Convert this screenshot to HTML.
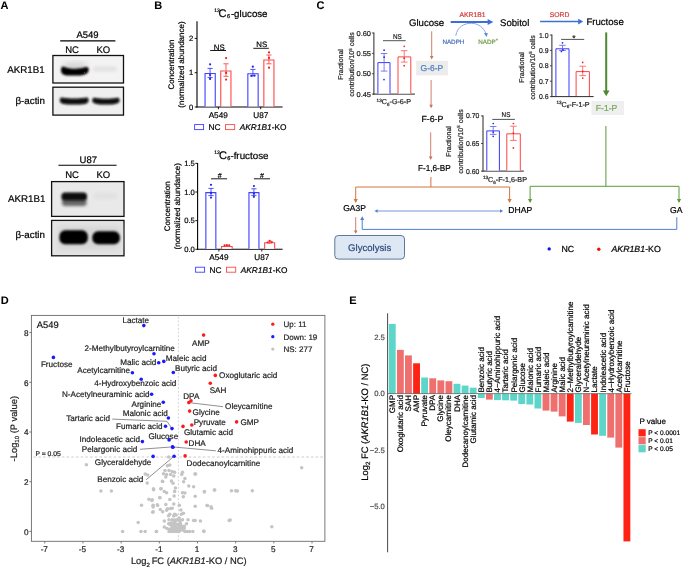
<!DOCTYPE html>
<html><head><meta charset="utf-8"><style>
html,body{margin:0;padding:0;background:#fff;}
svg{display:block;font-family:"Liberation Sans", sans-serif;opacity:0.999;text-rendering:geometricPrecision;}
</style></head><body>
<svg width="685" height="568" viewBox="0 0 685 568">
<defs>
<filter id="b1" x="-30%" y="-60%" width="160%" height="220%"><feGaussianBlur stdDeviation="0.9"/></filter>
<filter id="b2" x="-30%" y="-80%" width="160%" height="260%"><feGaussianBlur stdDeviation="1.4"/></filter>
<filter id="b3" x="-30%" y="-30%" width="160%" height="160%"><feGaussianBlur stdDeviation="3"/></filter>
</defs>
<rect width="685" height="568" fill="#fff"/>
<text x="0.60" y="9.30" font-size="11" font-weight="bold" stroke="#000" stroke-width="0.05" >A</text>
<text x="154.20" y="9.00" font-size="11" font-weight="bold" stroke="#000" stroke-width="0.05" >B</text>
<text x="316.40" y="8.90" font-size="11" font-weight="bold" stroke="#000" stroke-width="0.05" >C</text>
<text x="0.80" y="304.00" font-size="11" font-weight="bold" stroke="#000" stroke-width="0.05" >D</text>
<text x="349.20" y="303.80" font-size="11" font-weight="bold" stroke="#000" stroke-width="0.05" >E</text>
<text x="87.50" y="38.30" font-size="9.5" text-anchor="middle" stroke="#000" stroke-width="0.2" >A549</text>
<line x1="60.20" y1="40.90" x2="115.40" y2="40.90" stroke="#000" stroke-width="1.1" />
<text x="72.10" y="53.20" font-size="9.5" text-anchor="middle" stroke="#000" stroke-width="0.2" >NC</text>
<text x="103.40" y="53.20" font-size="9.5" text-anchor="middle" stroke="#000" stroke-width="0.2" >KO</text>
<rect x="52.90" y="55.50" width="70.60" height="27.50" fill="#f3f3f3" stroke="#111" stroke-width="1.3" />
<rect x="52.90" y="87.20" width="70.60" height="27.90" fill="#efefef" stroke="#111" stroke-width="1.3" />
<text x="44.80" y="73.00" font-size="9.8" text-anchor="end" stroke="#000" stroke-width="0.2" >AKR1B1</text>
<text x="45.00" y="103.60" font-size="9.8" text-anchor="end" stroke="#000" stroke-width="0.2" >β-actin</text>
<rect x="64" y="62.5" width="22" height="8" rx="3" fill="#d2d2d2" filter="url(#b3)"/>
<path d="M61,70 C61,66.3 63,65.8 64.8,66.9 C68.5,69.2 80,69.3 85,67.3 C87.2,66.4 88.7,67 88.7,69.6 C88.7,73.2 86,75.2 80,75.5 L67,75.5 C63,75.2 61,73.6 61,70 Z" fill="#060606" filter="url(#b1)"/>
<circle cx="84.5" cy="72.3" r="0.6" fill="#d02020"/>
<rect x="93" y="66.5" width="24" height="5" rx="2.5" fill="#e2e2e2" filter="url(#b2)"/>
<path d="M59.8,100.7 C59.8,97.4 61.3,97.1 62.8,97.8 C68.4,98.8 80.0,98.8 85.6,97.8 C87.1,97.1 88.6,97.4 88.6,100.7 C88.6,104.0 82.8,104.6 74.2,104.6 C65.6,104.6 59.8,104.0 59.8,100.7 Z" fill="#070707" filter="url(#b1)"/>
<path d="M92.3,100.8 C92.3,97.6 93.8,97.3 95.3,98.0 C100.5,98.9 111.4,98.9 116.6,98.0 C118.1,97.3 119.6,97.6 119.6,100.8 C119.6,104.0 114.1,104.6 105.9,104.6 C97.8,104.6 92.3,104.0 92.3,100.8 Z" fill="#070707" filter="url(#b1)"/>
<text x="88.30" y="162.80" font-size="9.5" text-anchor="middle" stroke="#000" stroke-width="0.2" >U87</text>
<line x1="58.40" y1="165.20" x2="116.60" y2="165.20" stroke="#000" stroke-width="1.1" />
<text x="72.10" y="178.30" font-size="9.5" text-anchor="middle" stroke="#000" stroke-width="0.2" >NC</text>
<text x="103.40" y="178.30" font-size="9.5" text-anchor="middle" stroke="#000" stroke-width="0.2" >KO</text>
<rect x="51.60" y="181.60" width="72.40" height="34.80" fill="#e9e9e9" stroke="#111" stroke-width="1.3" />
<rect x="51.60" y="220.40" width="72.40" height="35.40" fill="#e4e4e4" stroke="#111" stroke-width="1.3" />
<text x="45.50" y="201.90" font-size="9.8" text-anchor="end" stroke="#000" stroke-width="0.2" >AKR1B1</text>
<text x="45.00" y="238.30" font-size="9.8" text-anchor="end" stroke="#000" stroke-width="0.2" >β-actin</text>
<rect x="58" y="226" width="62" height="24" fill="#d6d6d6" filter="url(#b3)"/>
<rect x="93" y="193" width="24" height="6" rx="3" fill="#e1e1e1" filter="url(#b2)"/>
<rect x="62" y="198.5" width="24.5" height="7.5" rx="3" fill="#666" filter="url(#b2)"/>
<rect x="61.4" y="192.6" width="25.6" height="8.0" rx="3.6" fill="#080808" filter="url(#b1)"/>
<rect x="59.4" y="230.3" width="28.4" height="13.9" rx="5.8" fill="#050505" filter="url(#b1)"/>
<rect x="92.3" y="231.3" width="27.6" height="12.9" rx="5.8" fill="#050505" filter="url(#b1)"/>
<text x="214.20" y="11.90" font-size="5.0" stroke="#000" stroke-width="0.2" >13</text>
<text x="218.60" y="17.30" font-size="11" stroke="#000" stroke-width="0.2" >C</text>
<text x="227.00" y="18.00" font-size="5.6" stroke="#000" stroke-width="0.2" >6</text>
<text x="230.90" y="17.30" font-size="9.7" stroke="#000" stroke-width="0.2" >-glucose</text>
<line x1="197.00" y1="21.30" x2="197.00" y2="107.50" stroke="#000" stroke-width="1.1" />
<line x1="196.50" y1="107.00" x2="282.60" y2="107.00" stroke="#000" stroke-width="1.1" />
<line x1="194.70" y1="38.40" x2="197.00" y2="38.40" stroke="#000" stroke-width="0.9" />
<text x="193.30" y="41.10" font-size="7.6" text-anchor="end" stroke="#000" stroke-width="0.2" >2</text>
<line x1="194.70" y1="72.70" x2="197.00" y2="72.70" stroke="#000" stroke-width="0.9" />
<text x="193.30" y="75.40" font-size="7.6" text-anchor="end" stroke="#000" stroke-width="0.2" >1</text>
<line x1="194.70" y1="107.00" x2="197.00" y2="107.00" stroke="#000" stroke-width="0.9" />
<text x="193.30" y="109.70" font-size="7.6" text-anchor="end" stroke="#000" stroke-width="0.2" >0</text>
<line x1="218.40" y1="107.00" x2="218.40" y2="109.20" stroke="#000" stroke-width="0.9" />
<line x1="260.70" y1="107.00" x2="260.70" y2="109.20" stroke="#000" stroke-width="0.9" />
<path d="M205.05,106.45 L205.05,73.45 L215.25,73.45 L215.25,106.45" stroke="#3f3fff" fill="#fff" stroke-width="1.1" />
<path d="M220.75,106.45 L220.75,70.95 L230.95,70.95 L230.95,106.45" stroke="#ff4848" fill="#fff" stroke-width="1.1" />
<path d="M247.85,106.45 L247.85,73.75 L258.15,73.75 L258.15,106.45" stroke="#3f3fff" fill="#fff" stroke-width="1.1" />
<path d="M263.85,106.45 L263.85,60.05 L273.95,60.05 L273.95,106.45" stroke="#ff4848" fill="#fff" stroke-width="1.1" />
<line x1="210.10" y1="68.40" x2="210.10" y2="77.60" stroke="#3f3fff" stroke-width="0.9" />
<line x1="207.50" y1="68.40" x2="212.70" y2="68.40" stroke="#3f3fff" stroke-width="0.9" />
<line x1="207.50" y1="77.60" x2="212.70" y2="77.60" stroke="#3f3fff" stroke-width="0.9" />
<line x1="226.00" y1="63.80" x2="226.00" y2="76.30" stroke="#ff4848" stroke-width="0.9" />
<line x1="223.40" y1="63.80" x2="228.60" y2="63.80" stroke="#ff4848" stroke-width="0.9" />
<line x1="223.40" y1="76.30" x2="228.60" y2="76.30" stroke="#ff4848" stroke-width="0.9" />
<line x1="252.90" y1="69.40" x2="252.90" y2="75.80" stroke="#3f3fff" stroke-width="0.9" />
<line x1="250.30" y1="69.40" x2="255.50" y2="69.40" stroke="#3f3fff" stroke-width="0.9" />
<line x1="250.30" y1="75.80" x2="255.50" y2="75.80" stroke="#3f3fff" stroke-width="0.9" />
<line x1="268.90" y1="55.00" x2="268.90" y2="63.80" stroke="#ff4848" stroke-width="0.9" />
<line x1="266.30" y1="55.00" x2="271.50" y2="55.00" stroke="#ff4848" stroke-width="0.9" />
<line x1="266.30" y1="63.80" x2="271.50" y2="63.80" stroke="#ff4848" stroke-width="0.9" />
<circle cx="210.10" cy="64.30" r="1.1" fill="#2323e6"/>
<circle cx="210.10" cy="75.00" r="1.1" fill="#2323e6"/>
<circle cx="210.10" cy="78.90" r="1.1" fill="#2323e6"/>
<circle cx="252.80" cy="66.70" r="1.1" fill="#2323e6"/>
<circle cx="251.50" cy="75.90" r="1.1" fill="#2323e6"/>
<circle cx="254.40" cy="75.60" r="1.1" fill="#2323e6"/>
<circle cx="226.10" cy="58.10" r="1.1" fill="#f02020"/>
<circle cx="226.10" cy="72.90" r="1.1" fill="#f02020"/>
<circle cx="226.10" cy="79.60" r="1.1" fill="#f02020"/>
<circle cx="269.00" cy="52.40" r="1.1" fill="#f02020"/>
<circle cx="269.00" cy="57.90" r="1.1" fill="#f02020"/>
<circle cx="269.00" cy="67.70" r="1.1" fill="#f02020"/>
<text x="219.20" y="49.60" font-size="7.8" text-anchor="middle" stroke="#000" stroke-width="0.2" >NS</text>
<line x1="210.20" y1="50.50" x2="226.00" y2="50.50" stroke="#000" stroke-width="0.9" />
<text x="261.70" y="46.70" font-size="7.8" text-anchor="middle" stroke="#000" stroke-width="0.2" >NS</text>
<line x1="253.30" y1="48.30" x2="268.80" y2="48.30" stroke="#000" stroke-width="0.9" />
<text x="0" y="0" font-size="8" text-anchor="middle" transform="translate(174.30,64.50) rotate(-90)" stroke="#000" stroke-width="0.2" >Concentration</text>
<text x="0" y="0" font-size="8" text-anchor="middle" transform="translate(184.20,64.50) rotate(-90)" stroke="#000" stroke-width="0.2" >(normalized abundance)</text>
<text x="218.20" y="118.00" font-size="8.2" text-anchor="middle" stroke="#000" stroke-width="0.2" >A549</text>
<text x="260.80" y="118.00" font-size="8.2" text-anchor="middle" stroke="#000" stroke-width="0.2" >U87</text>
<rect x="194.60" y="124.60" width="9.00" height="5.00" fill="#fff" stroke="#3f3fff" stroke-width="0.9" />
<text x="208.40" y="130.20" font-size="8.3" stroke="#000" stroke-width="0.2" >NC</text>
<rect x="225.50" y="124.60" width="9.20" height="5.00" fill="#fff" stroke="#ff4848" stroke-width="0.9" />
<text x="239.80" y="130.20" font-size="8.3" stroke="#000" stroke-width="0.2" ><tspan font-style="italic">AKR1B1</tspan>-KO</text>
<text x="214.30" y="154.00" font-size="5.0" stroke="#000" stroke-width="0.2" >13</text>
<text x="218.90" y="158.70" font-size="11" stroke="#000" stroke-width="0.2" >C</text>
<text x="227.20" y="159.50" font-size="5.6" stroke="#000" stroke-width="0.2" >6</text>
<text x="230.40" y="158.60" font-size="9.8" stroke="#000" stroke-width="0.2" >-fructose</text>
<line x1="197.60" y1="163.00" x2="197.60" y2="249.80" stroke="#000" stroke-width="1.1" />
<line x1="197.10" y1="249.30" x2="282.60" y2="249.30" stroke="#000" stroke-width="1.1" />
<line x1="195.30" y1="163.35" x2="197.60" y2="163.35" stroke="#000" stroke-width="0.9" />
<text x="194.80" y="166.05" font-size="7.6" text-anchor="end" stroke="#000" stroke-width="0.2" >1.5</text>
<line x1="195.30" y1="192.00" x2="197.60" y2="192.00" stroke="#000" stroke-width="0.9" />
<text x="194.80" y="194.70" font-size="7.6" text-anchor="end" stroke="#000" stroke-width="0.2" >1.0</text>
<line x1="195.30" y1="220.65" x2="197.60" y2="220.65" stroke="#000" stroke-width="0.9" />
<text x="194.80" y="223.35" font-size="7.6" text-anchor="end" stroke="#000" stroke-width="0.2" >0.5</text>
<line x1="195.30" y1="249.30" x2="197.60" y2="249.30" stroke="#000" stroke-width="0.9" />
<text x="194.80" y="252.00" font-size="7.6" text-anchor="end" stroke="#000" stroke-width="0.2" >0.0</text>
<line x1="218.90" y1="249.30" x2="218.90" y2="251.50" stroke="#000" stroke-width="0.9" />
<line x1="261.80" y1="249.30" x2="261.80" y2="251.50" stroke="#000" stroke-width="0.9" />
<path d="M205.85,248.75 L205.85,192.65 L215.85,192.65 L215.85,248.75" stroke="#3f3fff" fill="#fff" stroke-width="1.1" />
<path d="M221.55,248.75 L221.55,246.45 L232.15,246.45 L232.15,248.75" stroke="#ff4848" fill="#fff" stroke-width="1.1" />
<path d="M248.95,248.75 L248.95,192.65 L258.95,192.65 L258.95,248.75" stroke="#3f3fff" fill="#fff" stroke-width="1.1" />
<path d="M264.65,248.75 L264.65,242.75 L274.65,242.75 L274.65,248.75" stroke="#ff4848" fill="#fff" stroke-width="1.1" />
<line x1="211.00" y1="188.40" x2="211.00" y2="195.60" stroke="#3f3fff" stroke-width="0.9" />
<line x1="208.40" y1="188.40" x2="213.60" y2="188.40" stroke="#3f3fff" stroke-width="0.9" />
<line x1="208.40" y1="195.60" x2="213.60" y2="195.60" stroke="#3f3fff" stroke-width="0.9" />
<line x1="253.90" y1="188.80" x2="253.90" y2="195.40" stroke="#3f3fff" stroke-width="0.9" />
<line x1="251.30" y1="188.80" x2="256.50" y2="188.80" stroke="#3f3fff" stroke-width="0.9" />
<line x1="251.30" y1="195.40" x2="256.50" y2="195.40" stroke="#3f3fff" stroke-width="0.9" />
<line x1="226.90" y1="245.30" x2="226.90" y2="246.50" stroke="#ff4848" stroke-width="0.9" />
<line x1="224.90" y1="245.30" x2="228.90" y2="245.30" stroke="#ff4848" stroke-width="0.9" />
<line x1="224.90" y1="246.50" x2="228.90" y2="246.50" stroke="#ff4848" stroke-width="0.9" />
<line x1="269.70" y1="241.20" x2="269.70" y2="243.20" stroke="#ff4848" stroke-width="0.9" />
<line x1="267.70" y1="241.20" x2="271.70" y2="241.20" stroke="#ff4848" stroke-width="0.9" />
<line x1="267.70" y1="243.20" x2="271.70" y2="243.20" stroke="#ff4848" stroke-width="0.9" />
<circle cx="211.00" cy="184.80" r="1.1" fill="#2323e6"/>
<circle cx="211.00" cy="192.90" r="1.1" fill="#2323e6"/>
<circle cx="211.00" cy="197.60" r="1.1" fill="#2323e6"/>
<circle cx="253.90" cy="186.00" r="1.1" fill="#2323e6"/>
<circle cx="253.90" cy="193.60" r="1.1" fill="#2323e6"/>
<circle cx="253.90" cy="196.80" r="1.1" fill="#2323e6"/>
<circle cx="224.50" cy="245.20" r="1.0" fill="#f02020"/>
<circle cx="226.90" cy="245.00" r="1.0" fill="#f02020"/>
<circle cx="229.30" cy="245.30" r="1.0" fill="#f02020"/>
<circle cx="267.50" cy="242.60" r="1.0" fill="#f02020"/>
<circle cx="269.70" cy="240.80" r="1.0" fill="#f02020"/>
<circle cx="271.90" cy="242.00" r="1.0" fill="#f02020"/>
<text x="219.60" y="177.60" font-size="7.0" text-anchor="middle" stroke="#000" stroke-width="0.2" >#</text>
<line x1="211.10" y1="178.80" x2="227.10" y2="178.80" stroke="#000" stroke-width="0.9" />
<text x="262.00" y="177.60" font-size="7.0" text-anchor="middle" stroke="#000" stroke-width="0.2" >#</text>
<line x1="253.90" y1="178.80" x2="270.00" y2="178.80" stroke="#000" stroke-width="0.9" />
<text x="0" y="0" font-size="8" text-anchor="middle" transform="translate(169.80,206.30) rotate(-90)" stroke="#000" stroke-width="0.2" >Concentration</text>
<text x="0" y="0" font-size="8" text-anchor="middle" transform="translate(180.40,206.30) rotate(-90)" stroke="#000" stroke-width="0.2" >(normalized abundance)</text>
<text x="218.90" y="260.20" font-size="8.2" text-anchor="middle" stroke="#000" stroke-width="0.2" >A549</text>
<text x="261.80" y="260.20" font-size="8.2" text-anchor="middle" stroke="#000" stroke-width="0.2" >U87</text>
<rect x="195.60" y="267.20" width="9.00" height="5.00" fill="#fff" stroke="#3f3fff" stroke-width="0.9" />
<text x="209.40" y="272.80" font-size="8.3" stroke="#000" stroke-width="0.2" >NC</text>
<rect x="226.50" y="267.20" width="9.20" height="5.00" fill="#fff" stroke="#ff4848" stroke-width="0.9" />
<text x="240.80" y="272.80" font-size="8.3" stroke="#000" stroke-width="0.2" ><tspan font-style="italic">AKR1B1</tspan>-KO</text>
<text x="409.00" y="25.60" font-size="9.6" stroke="#000" stroke-width="0.2" >Glucose</text>
<text x="500.00" y="25.60" font-size="9.6" stroke="#000" stroke-width="0.2" >Sobitol</text>
<text x="586.40" y="25.20" font-size="9.6" stroke="#000" stroke-width="0.2" >Fructose</text>
<line x1="450.70" y1="22.00" x2="489.00" y2="22.00" stroke="#3d6fd6" stroke-width="2.0" />
<path d="M487.6,18.9 L487.6,25.1 L493.4,22.0 Z" stroke="none" fill="#3d6fd6" stroke-width="1" />
<text x="472.60" y="16.80" font-size="6.8" text-anchor="middle" fill="#d23a3a" stroke="#d23a3a" stroke-width="0.2" >AKR1B1</text>
<path d="M455.8,35.8 C457.2,26.5 464.5,23.2 471.5,23.3 C478.5,23.4 484,28 485.9,33.6" stroke="#5a84d8" fill="none" stroke-width="0.7" />
<path d="M483.9,33.3 L487.8,32.9 L486.7,37.0 Z" stroke="none" fill="#5a84d8" stroke-width="1" />
<text x="453.40" y="43.60" font-size="6.3" text-anchor="middle" fill="#4a6eb8" stroke="#4a6eb8" stroke-width="0.2" >NADPH</text>
<text x="478.30" y="43.60" font-size="6.3" fill="#6e9e48" stroke="#6e9e48" stroke-width="0.2" >NADP<tspan font-size="4" dy="-2.5">+</tspan></text>
<line x1="540.10" y1="21.60" x2="579.50" y2="21.60" stroke="#3d6fd6" stroke-width="1.5" />
<path d="M578.2,18.8 L578.2,24.4 L583.2,21.6 Z" stroke="none" fill="#3d6fd6" stroke-width="1" />
<text x="559.60" y="16.80" font-size="6.8" text-anchor="middle" fill="#d23a3a" stroke="#d23a3a" stroke-width="0.2" >SORD</text>
<line x1="431.70" y1="31.30" x2="431.70" y2="56.60" stroke="#c8705c" stroke-width="0.9" />
<path d="M429.90,56.10 L433.50,56.10 L431.70,59.60 Z" stroke="none" fill="#c8705c" stroke-width="1" />
<rect x="416.20" y="60.80" width="31.70" height="14.60" fill="#ececec" />
<text x="431.90" y="70.80" font-size="8.5" text-anchor="middle" fill="#4a7cc0" stroke="#4a7cc0" stroke-width="0.2" >G-6-P</text>
<line x1="431.10" y1="80.00" x2="431.10" y2="105.30" stroke="#c8705c" stroke-width="0.9" />
<path d="M429.30,104.80 L432.90,104.80 L431.10,108.30 Z" stroke="none" fill="#c8705c" stroke-width="1" />
<text x="432.40" y="122.00" font-size="8.8" text-anchor="middle" stroke="#000" stroke-width="0.2" >F-6-P</text>
<line x1="430.70" y1="132.40" x2="430.70" y2="157.00" stroke="#c8705c" stroke-width="0.9" />
<path d="M428.90,156.50 L432.50,156.50 L430.70,160.00 Z" stroke="none" fill="#c8705c" stroke-width="1" />
<text x="434.30" y="171.00" font-size="8.7" text-anchor="middle" textLength="32.8" lengthAdjust="spacingAndGlyphs" stroke="#000" stroke-width="0.2" >F-1,6-BP</text>
<line x1="430.90" y1="177.00" x2="430.90" y2="187.00" stroke="#d5743c" stroke-width="1.0" />
<path d="M355.7,202 L355.7,187.0 L509.6,187.0 L509.6,202" stroke="#d5743c" fill="none" stroke-width="1.0" />
<path d="M353.6,199.0 L357.8,199.0 L355.7,203.0 Z" stroke="none" fill="#d5743c" stroke-width="1" />
<path d="M507.5,199.0 L511.7,199.0 L509.6,203.0 Z" stroke="none" fill="#d5743c" stroke-width="1" />
<line x1="606.20" y1="32.40" x2="606.20" y2="91.50" stroke="#4d8a2e" stroke-width="2.0" />
<path d="M602.9,90.4 L609.5,90.4 L606.2,96.2 Z" stroke="none" fill="#4d8a2e" stroke-width="1" />
<rect x="591.40" y="100.90" width="32.60" height="14.20" fill="#efefef" />
<text x="606.60" y="111.10" font-size="8.6" text-anchor="middle" fill="#78a85a" stroke="#78a85a" stroke-width="0.2" >F-1-P</text>
<line x1="605.90" y1="126.00" x2="605.90" y2="186.30" stroke="#5a9a36" stroke-width="1.0" />
<path d="M530.1,202 L530.1,186.3 L679.0,186.3 L679.0,202" stroke="#5a9a36" fill="none" stroke-width="1.0" />
<path d="M528.0,199.0 L532.2,199.0 L530.1,203.0 Z" stroke="none" fill="#5a9a36" stroke-width="1" />
<path d="M676.9,199.0 L681.1,199.0 L679.0,203.0 Z" stroke="none" fill="#5a9a36" stroke-width="1" />
<text x="354.60" y="211.40" font-size="8.5" text-anchor="middle" stroke="#000" stroke-width="0.2" >GA3P</text>
<text x="520.20" y="212.50" font-size="8.6" text-anchor="middle" stroke="#000" stroke-width="0.2" >DHAP</text>
<text x="676.30" y="212.50" font-size="8.6" text-anchor="middle" stroke="#000" stroke-width="0.2" >GA</text>
<line x1="376.00" y1="211.00" x2="501.50" y2="211.00" stroke="#4f7fd8" stroke-width="0.8" />
<path d="M377.60,209.30 L377.60,212.70 L374.40,211.00 Z" stroke="none" fill="#4f7fd8" stroke-width="1" />
<path d="M500.00,209.30 L500.00,212.70 L503.20,211.00 Z" stroke="none" fill="#4f7fd8" stroke-width="1" />
<path d="M676.8,217.2 L676.8,229.4 L362.2,229.4 L362.2,219.5" stroke="#4f7fd8" fill="none" stroke-width="1.0" />
<path d="M360.2,220.0 L364.2,220.0 L362.2,216.3 Z" stroke="none" fill="#4f7fd8" stroke-width="1" />
<line x1="355.70" y1="217.20" x2="355.70" y2="231.10" stroke="#c8705c" stroke-width="0.9" />
<path d="M353.90,230.60 L357.50,230.60 L355.70,233.80 Z" stroke="none" fill="#c8705c" stroke-width="1" />
<rect x="334.8" y="235.5" width="69.7" height="23.6" rx="3.5" fill="#dee8f4" stroke="#4e6a8e" stroke-width="0.9"/>
<text x="369.70" y="250.90" font-size="9.6" text-anchor="middle" fill="#2c4a7a" stroke="#2c4a7a" stroke-width="0.2" >Glycolysis</text>
<circle cx="549.20" cy="248.90" r="1.7" fill="#1010ee"/>
<text x="561.40" y="251.70" font-size="8.8" stroke="#000" stroke-width="0.2" >NC</text>
<circle cx="598.80" cy="249.20" r="1.7" fill="#ee1010"/>
<text x="611.40" y="251.70" font-size="8.8" stroke="#000" stroke-width="0.2" ><tspan font-style="italic">AKR1B1</tspan>-KO</text>
<line x1="373.90" y1="32.50" x2="373.90" y2="94.60" stroke="#262626" stroke-width="1.0" />
<line x1="373.40" y1="94.10" x2="414.90" y2="94.10" stroke="#262626" stroke-width="1.0" />
<line x1="371.90" y1="33.00" x2="373.90" y2="33.00" stroke="#262626" stroke-width="0.8" />
<text x="371.00" y="35.55" font-size="7.1" text-anchor="end" fill="#222" textLength="14.5" lengthAdjust="spacingAndGlyphs" stroke="#222" stroke-width="0.2" >0.60</text>
<line x1="371.90" y1="53.37" x2="373.90" y2="53.37" stroke="#262626" stroke-width="0.8" />
<text x="371.00" y="55.92" font-size="7.1" text-anchor="end" fill="#222" textLength="14.5" lengthAdjust="spacingAndGlyphs" stroke="#222" stroke-width="0.2" >0.55</text>
<line x1="371.90" y1="73.73" x2="373.90" y2="73.73" stroke="#262626" stroke-width="0.8" />
<text x="371.00" y="76.28" font-size="7.1" text-anchor="end" fill="#222" textLength="14.5" lengthAdjust="spacingAndGlyphs" stroke="#222" stroke-width="0.2" >0.50</text>
<line x1="371.90" y1="94.10" x2="373.90" y2="94.10" stroke="#262626" stroke-width="0.8" />
<text x="371.00" y="96.65" font-size="7.1" text-anchor="end" fill="#222" textLength="14.5" lengthAdjust="spacingAndGlyphs" stroke="#222" stroke-width="0.2" >0.45</text>
<path d="M377.90,93.55 L377.90,62.60 L390.00,62.60 L390.00,93.55" stroke="#3a3aff" fill="#fff" stroke-width="1.0" />
<path d="M398.00,93.55 L398.00,56.90 L410.80,56.90 L410.80,93.55" stroke="#ff4444" fill="#fff" stroke-width="1.0" />
<line x1="384.10" y1="53.50" x2="384.10" y2="71.10" stroke="#5a5aff" stroke-width="0.8" />
<line x1="380.80" y1="53.50" x2="387.40" y2="53.50" stroke="#5a5aff" stroke-width="0.8" />
<line x1="380.80" y1="71.10" x2="387.40" y2="71.10" stroke="#5a5aff" stroke-width="0.8" />
<line x1="404.20" y1="50.70" x2="404.20" y2="62.10" stroke="#ff5050" stroke-width="0.8" />
<line x1="400.90" y1="50.70" x2="407.50" y2="50.70" stroke="#ff5050" stroke-width="0.8" />
<line x1="400.90" y1="62.10" x2="407.50" y2="62.10" stroke="#ff5050" stroke-width="0.8" />
<circle cx="384.10" cy="50.20" r="0.85" fill="#2323e6"/>
<circle cx="384.10" cy="57.20" r="0.85" fill="#2323e6"/>
<circle cx="384.00" cy="79.60" r="0.85" fill="#2323e6"/>
<circle cx="404.20" cy="46.30" r="0.85" fill="#f02020"/>
<circle cx="404.20" cy="58.20" r="0.85" fill="#f02020"/>
<circle cx="404.20" cy="65.70" r="0.85" fill="#f02020"/>
<line x1="383.00" y1="40.70" x2="405.70" y2="40.70" stroke="#262626" stroke-width="0.8" />
<text x="397.40" y="38.70" font-size="7.0" text-anchor="middle" fill="#222" textLength="8.8" lengthAdjust="spacingAndGlyphs" stroke="#222" stroke-width="0.2" >NS</text>
<text x="376.60" y="104.40" font-size="7.2" fill="#222" stroke="#222" stroke-width="0.2" ><tspan font-size="4.6" dy="-2.9">13</tspan><tspan dy="2.9">C</tspan><tspan font-size="4.6" dy="1.5">6</tspan><tspan dy="-1.5">-G-6-P</tspan></text>
<text x="0" y="0" font-size="7.0" text-anchor="middle" fill="#222" transform="translate(343.00,64.50) rotate(-90)" stroke="#222" stroke-width="0.2" >Fractional</text>
<text x="0" y="0" font-size="7.0" text-anchor="middle" fill="#222" transform="translate(354.30,64.50) rotate(-90)" stroke="#222" stroke-width="0.2" >contribution/10<tspan font-size="4.4" dy="-2.6">5</tspan><tspan dy="2.6"> cells</tspan></text>
<line x1="483.00" y1="115.40" x2="483.00" y2="171.60" stroke="#262626" stroke-width="1.0" />
<line x1="482.50" y1="171.10" x2="523.80" y2="171.10" stroke="#262626" stroke-width="1.0" />
<line x1="481.00" y1="115.90" x2="483.00" y2="115.90" stroke="#262626" stroke-width="0.8" />
<text x="479.30" y="118.45" font-size="7.1" text-anchor="end" fill="#222" textLength="13.4" lengthAdjust="spacingAndGlyphs" stroke="#222" stroke-width="0.2" >0.70</text>
<line x1="481.00" y1="143.50" x2="483.00" y2="143.50" stroke="#262626" stroke-width="0.8" />
<text x="479.30" y="146.05" font-size="7.1" text-anchor="end" fill="#222" textLength="13.4" lengthAdjust="spacingAndGlyphs" stroke="#222" stroke-width="0.2" >0.65</text>
<line x1="481.00" y1="171.10" x2="483.00" y2="171.10" stroke="#262626" stroke-width="0.8" />
<text x="479.30" y="173.65" font-size="7.1" text-anchor="end" fill="#222" textLength="13.4" lengthAdjust="spacingAndGlyphs" stroke="#222" stroke-width="0.2" >0.60</text>
<path d="M486.80,170.55 L486.80,130.90 L499.40,130.90 L499.40,170.55" stroke="#3a3aff" fill="#fff" stroke-width="1.0" />
<path d="M506.80,170.55 L506.80,133.80 L520.30,133.80 L520.30,170.55" stroke="#ff4444" fill="#fff" stroke-width="1.0" />
<line x1="493.20" y1="126.50" x2="493.20" y2="134.40" stroke="#5a5aff" stroke-width="0.8" />
<line x1="489.90" y1="126.50" x2="496.50" y2="126.50" stroke="#5a5aff" stroke-width="0.8" />
<line x1="489.90" y1="134.40" x2="496.50" y2="134.40" stroke="#5a5aff" stroke-width="0.8" />
<line x1="513.40" y1="126.20" x2="513.40" y2="140.40" stroke="#ff5050" stroke-width="0.8" />
<line x1="510.10" y1="126.20" x2="516.70" y2="126.20" stroke="#ff5050" stroke-width="0.8" />
<line x1="510.10" y1="140.40" x2="516.70" y2="140.40" stroke="#ff5050" stroke-width="0.8" />
<circle cx="493.20" cy="123.50" r="0.85" fill="#2323e6"/>
<circle cx="493.20" cy="132.10" r="0.85" fill="#2323e6"/>
<circle cx="493.20" cy="136.30" r="0.85" fill="#2323e6"/>
<circle cx="513.40" cy="123.50" r="0.85" fill="#f02020"/>
<circle cx="513.40" cy="133.20" r="0.85" fill="#f02020"/>
<circle cx="513.40" cy="147.90" r="0.85" fill="#f02020"/>
<line x1="492.30" y1="119.40" x2="514.90" y2="119.40" stroke="#262626" stroke-width="0.8" />
<text x="506.00" y="117.10" font-size="7.0" text-anchor="middle" fill="#222" textLength="8.8" lengthAdjust="spacingAndGlyphs" stroke="#222" stroke-width="0.2" >NS</text>
<text x="482.90" y="182.00" font-size="7.2" fill="#222" stroke="#222" stroke-width="0.2" ><tspan font-size="4.6" dy="-2.9">13</tspan><tspan dy="2.9">C</tspan><tspan font-size="4.6" dy="1.5">6</tspan><tspan dy="-1.5">-F-1,6-BP</tspan></text>
<text x="0" y="0" font-size="7.0" text-anchor="middle" fill="#222" transform="translate(451.30,141.50) rotate(-90)" stroke="#222" stroke-width="0.2" >Fractional</text>
<text x="0" y="0" font-size="7.0" text-anchor="middle" fill="#222" transform="translate(463.00,141.50) rotate(-90)" stroke="#222" stroke-width="0.2" >contribution/10<tspan font-size="4.4" dy="-2.6">5</tspan><tspan dy="2.6"> cells</tspan></text>
<line x1="551.90" y1="34.50" x2="551.90" y2="97.10" stroke="#262626" stroke-width="1.0" />
<line x1="551.40" y1="96.60" x2="593.60" y2="96.60" stroke="#262626" stroke-width="1.0" />
<line x1="549.90" y1="35.00" x2="551.90" y2="35.00" stroke="#262626" stroke-width="0.8" />
<text x="548.60" y="37.55" font-size="7.1" text-anchor="end" fill="#222" textLength="9.6" lengthAdjust="spacingAndGlyphs" stroke="#222" stroke-width="0.2" >1.0</text>
<line x1="549.90" y1="50.40" x2="551.90" y2="50.40" stroke="#262626" stroke-width="0.8" />
<text x="548.60" y="52.95" font-size="7.1" text-anchor="end" fill="#222" textLength="9.6" lengthAdjust="spacingAndGlyphs" stroke="#222" stroke-width="0.2" >0.9</text>
<line x1="549.90" y1="65.80" x2="551.90" y2="65.80" stroke="#262626" stroke-width="0.8" />
<text x="548.60" y="68.35" font-size="7.1" text-anchor="end" fill="#222" textLength="9.6" lengthAdjust="spacingAndGlyphs" stroke="#222" stroke-width="0.2" >0.8</text>
<line x1="549.90" y1="81.20" x2="551.90" y2="81.20" stroke="#262626" stroke-width="0.8" />
<text x="548.60" y="83.75" font-size="7.1" text-anchor="end" fill="#222" textLength="9.6" lengthAdjust="spacingAndGlyphs" stroke="#222" stroke-width="0.2" >0.7</text>
<line x1="549.90" y1="96.60" x2="551.90" y2="96.60" stroke="#262626" stroke-width="0.8" />
<text x="548.60" y="99.15" font-size="7.1" text-anchor="end" fill="#222" textLength="9.6" lengthAdjust="spacingAndGlyphs" stroke="#222" stroke-width="0.2" >0.6</text>
<path d="M555.90,96.05 L555.90,48.80 L569.00,48.80 L569.00,96.05" stroke="#3a3aff" fill="#fff" stroke-width="1.0" />
<path d="M576.10,96.05 L576.10,71.60 L589.40,71.60 L589.40,96.05" stroke="#ff4444" fill="#fff" stroke-width="1.0" />
<line x1="562.50" y1="45.30" x2="562.50" y2="50.50" stroke="#5a5aff" stroke-width="0.8" />
<line x1="559.20" y1="45.30" x2="565.80" y2="45.30" stroke="#5a5aff" stroke-width="0.8" />
<line x1="559.20" y1="50.50" x2="565.80" y2="50.50" stroke="#5a5aff" stroke-width="0.8" />
<line x1="582.70" y1="66.20" x2="582.70" y2="75.60" stroke="#ff5050" stroke-width="0.8" />
<line x1="579.40" y1="66.20" x2="586.00" y2="66.20" stroke="#ff5050" stroke-width="0.8" />
<line x1="579.40" y1="75.60" x2="586.00" y2="75.60" stroke="#ff5050" stroke-width="0.8" />
<circle cx="562.50" cy="42.80" r="0.85" fill="#2323e6"/>
<circle cx="563.00" cy="49.90" r="0.85" fill="#2323e6"/>
<circle cx="561.40" cy="51.50" r="0.85" fill="#2323e6"/>
<circle cx="582.70" cy="62.40" r="0.85" fill="#f02020"/>
<circle cx="582.70" cy="71.40" r="0.85" fill="#f02020"/>
<circle cx="582.70" cy="78.10" r="0.85" fill="#f02020"/>
<line x1="561.10" y1="39.40" x2="584.20" y2="39.40" stroke="#262626" stroke-width="0.8" />
<text x="573.80" y="40.60" font-size="8.5" text-anchor="middle" fill="#222" stroke="#222" stroke-width="0.2" >*</text>
<text x="556.40" y="106.80" font-size="7.2" fill="#222" stroke="#222" stroke-width="0.2" ><tspan font-size="4.6" dy="-2.9">13</tspan><tspan dy="2.9">C</tspan><tspan font-size="4.6" dy="1.5">6</tspan><tspan dy="-1.5">-F-1-P</tspan></text>
<text x="0" y="0" font-size="7.0" text-anchor="middle" fill="#222" transform="translate(524.00,67.50) rotate(-90)" stroke="#222" stroke-width="0.2" >Fractional</text>
<text x="0" y="0" font-size="7.0" text-anchor="middle" fill="#222" transform="translate(534.90,67.50) rotate(-90)" stroke="#222" stroke-width="0.2" >contribution/10<tspan font-size="4.4" dy="-2.6">5</tspan><tspan dy="2.6"> cells</tspan></text>
<rect x="31.40" y="315.40" width="293.50" height="225.90" fill="none" stroke="#6a6a6a" stroke-width="0.9" />
<line x1="29.30" y1="332.60" x2="31.40" y2="332.60" stroke="#6a6a6a" stroke-width="0.9" />
<text x="28.50" y="335.80" font-size="8.2" text-anchor="end" fill="#222" stroke="#222" stroke-width="0.2" >8</text>
<line x1="29.30" y1="382.30" x2="31.40" y2="382.30" stroke="#6a6a6a" stroke-width="0.9" />
<text x="28.50" y="385.50" font-size="8.2" text-anchor="end" fill="#222" stroke="#222" stroke-width="0.2" >6</text>
<line x1="29.30" y1="432.00" x2="31.40" y2="432.00" stroke="#6a6a6a" stroke-width="0.9" />
<text x="28.50" y="435.20" font-size="8.2" text-anchor="end" fill="#222" stroke="#222" stroke-width="0.2" >4</text>
<line x1="29.30" y1="481.70" x2="31.40" y2="481.70" stroke="#6a6a6a" stroke-width="0.9" />
<text x="28.50" y="484.90" font-size="8.2" text-anchor="end" fill="#222" stroke="#222" stroke-width="0.2" >2</text>
<line x1="29.30" y1="531.40" x2="31.40" y2="531.40" stroke="#6a6a6a" stroke-width="0.9" />
<text x="28.50" y="534.60" font-size="8.2" text-anchor="end" fill="#222" stroke="#222" stroke-width="0.2" >0</text>
<line x1="44.77" y1="541.30" x2="44.77" y2="543.40" stroke="#6a6a6a" stroke-width="0.9" />
<text x="44.27" y="551.70" font-size="8.2" text-anchor="middle" fill="#222" stroke="#222" stroke-width="0.2" >-7</text>
<line x1="82.95" y1="541.30" x2="82.95" y2="543.40" stroke="#6a6a6a" stroke-width="0.9" />
<text x="82.45" y="551.70" font-size="8.2" text-anchor="middle" fill="#222" stroke="#222" stroke-width="0.2" >-5</text>
<line x1="121.13" y1="541.30" x2="121.13" y2="543.40" stroke="#6a6a6a" stroke-width="0.9" />
<text x="120.63" y="551.70" font-size="8.2" text-anchor="middle" fill="#222" stroke="#222" stroke-width="0.2" >-3</text>
<line x1="159.31" y1="541.30" x2="159.31" y2="543.40" stroke="#6a6a6a" stroke-width="0.9" />
<text x="158.81" y="551.70" font-size="8.2" text-anchor="middle" fill="#222" stroke="#222" stroke-width="0.2" >-1</text>
<line x1="197.49" y1="541.30" x2="197.49" y2="543.40" stroke="#6a6a6a" stroke-width="0.9" />
<text x="196.99" y="551.70" font-size="8.2" text-anchor="middle" fill="#222" stroke="#222" stroke-width="0.2" >1</text>
<line x1="235.67" y1="541.30" x2="235.67" y2="543.40" stroke="#6a6a6a" stroke-width="0.9" />
<text x="235.17" y="551.70" font-size="8.2" text-anchor="middle" fill="#222" stroke="#222" stroke-width="0.2" >3</text>
<line x1="273.85" y1="541.30" x2="273.85" y2="543.40" stroke="#6a6a6a" stroke-width="0.9" />
<text x="273.35" y="551.70" font-size="8.2" text-anchor="middle" fill="#222" stroke="#222" stroke-width="0.2" >5</text>
<line x1="312.03" y1="541.30" x2="312.03" y2="543.40" stroke="#6a6a6a" stroke-width="0.9" />
<text x="311.53" y="551.70" font-size="8.2" text-anchor="middle" fill="#222" stroke="#222" stroke-width="0.2" >7</text>
<text x="0" y="0" font-size="9.4" text-anchor="middle" fill="#222" transform="translate(16.80,428.70) rotate(-90)" stroke="#222" stroke-width="0.2" >-Log<tspan font-size="6" dy="2.5">10</tspan><tspan dy="-2.5"> (P value)</tspan></text>
<text x="130.90" y="564.20" font-size="9.35" fill="#222" stroke="#222" stroke-width="0.2" >Log<tspan font-size="6" dy="2.5">2</tspan><tspan dy="-2.5" dx="-0.8"> FC (</tspan><tspan font-style="italic">AKR1B1</tspan>-KO / NC)</text>
<line x1="31.40" y1="457.00" x2="324.90" y2="457.00" stroke="#cdcdcd" stroke-width="1.0" stroke-dasharray="2.6,2.1" stroke-dashoffset="2.5"/>
<line x1="178.40" y1="315.40" x2="178.40" y2="541.30" stroke="#d4d4d4" stroke-width="1.0" stroke-dasharray="1.9,1.8" stroke-dashoffset="2.3"/>
<text x="35.40" y="455.60" font-size="6.8" fill="#222" stroke="#222" stroke-width="0.2" >P = 0.05</text>
<circle cx="86.40" cy="464.70" r="1.75" fill="#c4c4c4"/>
<circle cx="100.90" cy="491.00" r="1.75" fill="#c4c4c4"/>
<circle cx="111.40" cy="491.00" r="1.75" fill="#c4c4c4"/>
<circle cx="122.60" cy="531.60" r="1.75" fill="#c4c4c4"/>
<circle cx="138.20" cy="522.40" r="1.75" fill="#c4c4c4"/>
<circle cx="141.00" cy="531.60" r="1.75" fill="#c4c4c4"/>
<circle cx="145.20" cy="531.60" r="1.75" fill="#c4c4c4"/>
<circle cx="156.40" cy="531.60" r="1.75" fill="#c4c4c4"/>
<circle cx="141.50" cy="505.20" r="1.75" fill="#c4c4c4"/>
<circle cx="145.20" cy="473.90" r="1.75" fill="#c4c4c4"/>
<circle cx="147.70" cy="475.10" r="1.75" fill="#c4c4c4"/>
<circle cx="147.20" cy="483.10" r="1.75" fill="#c4c4c4"/>
<circle cx="148.90" cy="499.30" r="1.75" fill="#c4c4c4"/>
<circle cx="152.20" cy="499.80" r="1.75" fill="#c4c4c4"/>
<circle cx="153.60" cy="489.80" r="1.75" fill="#c4c4c4"/>
<circle cx="153.10" cy="505.20" r="1.75" fill="#c4c4c4"/>
<circle cx="153.10" cy="506.90" r="1.75" fill="#c4c4c4"/>
<circle cx="152.70" cy="512.20" r="1.75" fill="#c4c4c4"/>
<circle cx="157.40" cy="504.80" r="1.75" fill="#c4c4c4"/>
<circle cx="159.90" cy="497.70" r="1.75" fill="#c4c4c4"/>
<circle cx="160.80" cy="488.80" r="1.75" fill="#c4c4c4"/>
<circle cx="162.40" cy="481.30" r="1.75" fill="#c4c4c4"/>
<circle cx="168.70" cy="457.10" r="1.75" fill="#c4c4c4"/>
<circle cx="169.80" cy="465.10" r="1.75" fill="#c4c4c4"/>
<circle cx="167.40" cy="465.80" r="1.75" fill="#c4c4c4"/>
<circle cx="165.00" cy="470.60" r="1.75" fill="#c4c4c4"/>
<circle cx="169.00" cy="470.60" r="1.75" fill="#c4c4c4"/>
<circle cx="172.20" cy="471.40" r="1.75" fill="#c4c4c4"/>
<circle cx="174.60" cy="472.20" r="1.75" fill="#c4c4c4"/>
<circle cx="163.50" cy="473.80" r="1.75" fill="#c4c4c4"/>
<circle cx="166.60" cy="474.60" r="1.75" fill="#c4c4c4"/>
<circle cx="170.60" cy="474.60" r="1.75" fill="#c4c4c4"/>
<circle cx="165.80" cy="477.00" r="1.75" fill="#c4c4c4"/>
<circle cx="173.80" cy="476.10" r="1.75" fill="#c4c4c4"/>
<circle cx="182.50" cy="472.20" r="1.75" fill="#c4c4c4"/>
<circle cx="181.70" cy="474.60" r="1.75" fill="#c4c4c4"/>
<circle cx="195.60" cy="474.10" r="1.75" fill="#c4c4c4"/>
<circle cx="162.70" cy="481.40" r="1.75" fill="#c4c4c4"/>
<circle cx="171.40" cy="480.90" r="1.75" fill="#c4c4c4"/>
<circle cx="173.00" cy="483.30" r="1.75" fill="#c4c4c4"/>
<circle cx="184.90" cy="478.50" r="1.75" fill="#c4c4c4"/>
<circle cx="183.60" cy="481.70" r="1.75" fill="#c4c4c4"/>
<circle cx="188.80" cy="486.10" r="1.75" fill="#c4c4c4"/>
<circle cx="193.60" cy="486.80" r="1.75" fill="#c4c4c4"/>
<circle cx="153.50" cy="488.80" r="1.75" fill="#c4c4c4"/>
<circle cx="161.10" cy="488.80" r="1.75" fill="#c4c4c4"/>
<circle cx="175.40" cy="488.00" r="1.75" fill="#c4c4c4"/>
<circle cx="164.30" cy="491.50" r="1.75" fill="#c4c4c4"/>
<circle cx="166.60" cy="492.80" r="1.75" fill="#c4c4c4"/>
<circle cx="174.60" cy="491.50" r="1.75" fill="#c4c4c4"/>
<circle cx="182.50" cy="492.80" r="1.75" fill="#c4c4c4"/>
<circle cx="184.90" cy="493.10" r="1.75" fill="#c4c4c4"/>
<circle cx="183.30" cy="496.80" r="1.75" fill="#c4c4c4"/>
<circle cx="204.40" cy="492.00" r="1.75" fill="#c4c4c4"/>
<circle cx="214.70" cy="490.10" r="1.75" fill="#c4c4c4"/>
<circle cx="174.10" cy="496.00" r="1.75" fill="#c4c4c4"/>
<circle cx="195.20" cy="496.30" r="1.75" fill="#c4c4c4"/>
<circle cx="159.80" cy="497.50" r="1.75" fill="#c4c4c4"/>
<circle cx="151.90" cy="500.40" r="1.75" fill="#c4c4c4"/>
<circle cx="169.80" cy="499.60" r="1.75" fill="#c4c4c4"/>
<circle cx="153.20" cy="505.50" r="1.75" fill="#c4c4c4"/>
<circle cx="157.60" cy="505.50" r="1.75" fill="#c4c4c4"/>
<circle cx="165.80" cy="504.40" r="1.75" fill="#c4c4c4"/>
<circle cx="173.80" cy="503.90" r="1.75" fill="#c4c4c4"/>
<circle cx="179.30" cy="505.20" r="1.75" fill="#c4c4c4"/>
<circle cx="195.20" cy="506.30" r="1.75" fill="#c4c4c4"/>
<circle cx="207.00" cy="505.50" r="1.75" fill="#c4c4c4"/>
<circle cx="211.00" cy="506.70" r="1.75" fill="#c4c4c4"/>
<circle cx="153.20" cy="511.80" r="1.75" fill="#c4c4c4"/>
<circle cx="160.30" cy="509.40" r="1.75" fill="#c4c4c4"/>
<circle cx="162.70" cy="511.80" r="1.75" fill="#c4c4c4"/>
<circle cx="166.60" cy="510.20" r="1.75" fill="#c4c4c4"/>
<circle cx="170.60" cy="508.60" r="1.75" fill="#c4c4c4"/>
<circle cx="172.20" cy="508.30" r="1.75" fill="#c4c4c4"/>
<circle cx="180.90" cy="509.90" r="1.75" fill="#c4c4c4"/>
<circle cx="181.40" cy="514.20" r="1.75" fill="#c4c4c4"/>
<circle cx="169.80" cy="514.20" r="1.75" fill="#c4c4c4"/>
<circle cx="174.60" cy="514.20" r="1.75" fill="#c4c4c4"/>
<circle cx="176.10" cy="515.00" r="1.75" fill="#c4c4c4"/>
<circle cx="169.00" cy="519.70" r="1.75" fill="#c4c4c4"/>
<circle cx="164.30" cy="521.00" r="1.75" fill="#c4c4c4"/>
<circle cx="172.20" cy="519.70" r="1.75" fill="#c4c4c4"/>
<circle cx="175.40" cy="520.50" r="1.75" fill="#c4c4c4"/>
<circle cx="179.30" cy="519.70" r="1.75" fill="#c4c4c4"/>
<circle cx="182.50" cy="519.70" r="1.75" fill="#c4c4c4"/>
<circle cx="188.00" cy="519.70" r="1.75" fill="#c4c4c4"/>
<circle cx="193.60" cy="520.50" r="1.75" fill="#c4c4c4"/>
<circle cx="195.20" cy="520.50" r="1.75" fill="#c4c4c4"/>
<circle cx="200.40" cy="521.00" r="1.75" fill="#c4c4c4"/>
<circle cx="229.20" cy="520.50" r="1.75" fill="#c4c4c4"/>
<circle cx="170.60" cy="524.50" r="1.75" fill="#c4c4c4"/>
<circle cx="173.80" cy="523.70" r="1.75" fill="#c4c4c4"/>
<circle cx="176.90" cy="524.50" r="1.75" fill="#c4c4c4"/>
<circle cx="180.10" cy="523.70" r="1.75" fill="#c4c4c4"/>
<circle cx="186.50" cy="523.70" r="1.75" fill="#c4c4c4"/>
<circle cx="164.30" cy="526.90" r="1.75" fill="#c4c4c4"/>
<circle cx="172.20" cy="527.70" r="1.75" fill="#c4c4c4"/>
<circle cx="176.10" cy="527.70" r="1.75" fill="#c4c4c4"/>
<circle cx="179.30" cy="526.90" r="1.75" fill="#c4c4c4"/>
<circle cx="181.70" cy="526.10" r="1.75" fill="#c4c4c4"/>
<circle cx="156.30" cy="531.60" r="1.75" fill="#c4c4c4"/>
<circle cx="169.00" cy="531.60" r="1.75" fill="#c4c4c4"/>
<circle cx="171.40" cy="531.60" r="1.75" fill="#c4c4c4"/>
<circle cx="173.80" cy="531.60" r="1.75" fill="#c4c4c4"/>
<circle cx="176.10" cy="531.60" r="1.75" fill="#c4c4c4"/>
<circle cx="178.50" cy="531.60" r="1.75" fill="#c4c4c4"/>
<circle cx="184.90" cy="531.60" r="1.75" fill="#c4c4c4"/>
<circle cx="187.20" cy="531.60" r="1.75" fill="#c4c4c4"/>
<circle cx="189.60" cy="531.60" r="1.75" fill="#c4c4c4"/>
<circle cx="192.80" cy="531.60" r="1.75" fill="#c4c4c4"/>
<circle cx="203.90" cy="531.60" r="1.75" fill="#c4c4c4"/>
<circle cx="301.70" cy="467.70" r="1.75" fill="#c4c4c4"/>
<circle cx="252.30" cy="490.70" r="1.75" fill="#c4c4c4"/>
<circle cx="231.50" cy="490.70" r="1.75" fill="#c4c4c4"/>
<circle cx="235.70" cy="490.70" r="1.75" fill="#c4c4c4"/>
<circle cx="214.30" cy="489.90" r="1.75" fill="#c4c4c4"/>
<circle cx="204.40" cy="491.60" r="1.75" fill="#c4c4c4"/>
<circle cx="207.40" cy="505.40" r="1.75" fill="#c4c4c4"/>
<circle cx="211.60" cy="508.20" r="1.75" fill="#c4c4c4"/>
<circle cx="230.20" cy="519.90" r="1.75" fill="#c4c4c4"/>
<circle cx="271.80" cy="526.80" r="1.75" fill="#c4c4c4"/>
<circle cx="203.80" cy="531.00" r="1.75" fill="#c4c4c4"/>
<circle cx="194.90" cy="474.10" r="1.75" fill="#c4c4c4"/>
<circle cx="237.40" cy="491.00" r="1.75" fill="#c4c4c4"/>
<circle cx="175.72" cy="526.90" r="1.75" fill="#c4c4c4"/>
<circle cx="175.87" cy="528.66" r="1.75" fill="#c4c4c4"/>
<circle cx="172.35" cy="529.58" r="1.75" fill="#c4c4c4"/>
<circle cx="182.56" cy="527.68" r="1.75" fill="#c4c4c4"/>
<circle cx="182.18" cy="529.26" r="1.75" fill="#c4c4c4"/>
<circle cx="178.97" cy="529.83" r="1.75" fill="#c4c4c4"/>
<circle cx="168.67" cy="523.80" r="1.75" fill="#c4c4c4"/>
<circle cx="179.53" cy="527.01" r="1.75" fill="#c4c4c4"/>
<circle cx="168.54" cy="515.81" r="1.75" fill="#c4c4c4"/>
<circle cx="172.55" cy="527.29" r="1.75" fill="#c4c4c4"/>
<circle cx="178.53" cy="531.09" r="1.75" fill="#c4c4c4"/>
<circle cx="179.60" cy="525.72" r="1.75" fill="#c4c4c4"/>
<circle cx="178.54" cy="527.95" r="1.75" fill="#c4c4c4"/>
<circle cx="173.69" cy="516.04" r="1.75" fill="#c4c4c4"/>
<circle cx="179.78" cy="520.73" r="1.75" fill="#c4c4c4"/>
<circle cx="173.90" cy="524.84" r="1.75" fill="#c4c4c4"/>
<circle cx="175.28" cy="530.54" r="1.75" fill="#c4c4c4"/>
<circle cx="180.16" cy="529.26" r="1.75" fill="#c4c4c4"/>
<circle cx="174.76" cy="522.89" r="1.75" fill="#c4c4c4"/>
<circle cx="174.40" cy="520.51" r="1.75" fill="#c4c4c4"/>
<circle cx="172.96" cy="529.30" r="1.75" fill="#c4c4c4"/>
<circle cx="179.13" cy="518.09" r="1.75" fill="#c4c4c4"/>
<circle cx="177.24" cy="519.74" r="1.75" fill="#c4c4c4"/>
<circle cx="166.93" cy="528.61" r="1.75" fill="#c4c4c4"/>
<circle cx="176.47" cy="524.14" r="1.75" fill="#c4c4c4"/>
<circle cx="179.49" cy="530.94" r="1.75" fill="#c4c4c4"/>
<circle cx="169.68" cy="524.05" r="1.75" fill="#c4c4c4"/>
<circle cx="180.35" cy="522.99" r="1.75" fill="#c4c4c4"/>
<circle cx="184.20" cy="528.24" r="1.75" fill="#c4c4c4"/>
<circle cx="177.60" cy="519.81" r="1.75" fill="#c4c4c4"/>
<circle cx="180.08" cy="525.99" r="1.75" fill="#c4c4c4"/>
<circle cx="174.74" cy="520.12" r="1.75" fill="#c4c4c4"/>
<circle cx="172.16" cy="526.72" r="1.75" fill="#c4c4c4"/>
<circle cx="183.44" cy="513.21" r="1.75" fill="#c4c4c4"/>
<circle cx="169.71" cy="529.35" r="1.75" fill="#c4c4c4"/>
<circle cx="184.22" cy="526.29" r="1.75" fill="#c4c4c4"/>
<circle cx="167.50" cy="508.84" r="1.75" fill="#c4c4c4"/>
<circle cx="178.79" cy="524.87" r="1.75" fill="#c4c4c4"/>
<circle cx="171.40" cy="522.70" r="1.75" fill="#c4c4c4"/>
<circle cx="182.51" cy="530.08" r="1.75" fill="#c4c4c4"/>
<path d="M112.2,419.1 L166.9,421.3 L172.0,428.6" stroke="#444" fill="none" stroke-width="0.6" />
<line x1="139.90" y1="449.30" x2="172.50" y2="446.90" stroke="#444" stroke-width="0.6" />
<line x1="172.50" y1="446.90" x2="215.80" y2="450.80" stroke="#444" stroke-width="0.6" />
<line x1="188.80" y1="402.60" x2="223.10" y2="406.70" stroke="#444" stroke-width="0.6" />
<line x1="174.10" y1="456.20" x2="146.10" y2="479.80" stroke="#444" stroke-width="0.6" />
<circle cx="53.40" cy="357.40" r="1.8" fill="#1a1aff"/>
<circle cx="143.80" cy="325.60" r="1.8" fill="#1a1aff"/>
<circle cx="154.00" cy="353.80" r="1.8" fill="#1a1aff"/>
<circle cx="158.70" cy="362.80" r="1.8" fill="#1a1aff"/>
<circle cx="163.80" cy="361.40" r="1.8" fill="#1a1aff"/>
<circle cx="132.40" cy="372.80" r="1.8" fill="#1a1aff"/>
<circle cx="173.30" cy="372.50" r="1.8" fill="#1a1aff"/>
<circle cx="141.20" cy="379.30" r="1.8" fill="#1a1aff"/>
<circle cx="151.60" cy="394.20" r="1.8" fill="#1a1aff"/>
<circle cx="163.30" cy="402.20" r="1.8" fill="#1a1aff"/>
<circle cx="168.40" cy="418.00" r="1.8" fill="#1a1aff"/>
<circle cx="165.50" cy="426.30" r="1.8" fill="#1a1aff"/>
<circle cx="172.00" cy="428.60" r="1.8" fill="#1a1aff"/>
<circle cx="169.10" cy="439.90" r="1.8" fill="#1a1aff"/>
<circle cx="142.40" cy="441.60" r="1.8" fill="#1a1aff"/>
<circle cx="172.50" cy="446.90" r="1.8" fill="#1a1aff"/>
<circle cx="172.90" cy="447.30" r="1.8" fill="#1a1aff"/>
<circle cx="153.10" cy="456.40" r="1.8" fill="#1a1aff"/>
<circle cx="174.10" cy="456.20" r="1.8" fill="#1a1aff"/>
<circle cx="203.60" cy="335.10" r="1.8" fill="#ff1a1a"/>
<circle cx="215.30" cy="375.40" r="1.8" fill="#ff1a1a"/>
<circle cx="210.30" cy="383.20" r="1.8" fill="#ff1a1a"/>
<circle cx="191.00" cy="400.70" r="1.8" fill="#ff1a1a"/>
<circle cx="188.80" cy="402.60" r="1.8" fill="#ff1a1a"/>
<circle cx="189.60" cy="411.10" r="1.8" fill="#ff1a1a"/>
<circle cx="191.80" cy="425.00" r="1.8" fill="#ff1a1a"/>
<circle cx="183.00" cy="426.40" r="1.8" fill="#ff1a1a"/>
<circle cx="236.60" cy="421.90" r="1.8" fill="#ff1a1a"/>
<circle cx="186.20" cy="442.00" r="1.8" fill="#ff1a1a"/>
<circle cx="185.10" cy="455.90" r="1.8" fill="#ff1a1a"/>
<text x="135.80" y="323.40" font-size="8.15" text-anchor="middle" fill="#222" stroke="#222" stroke-width="0.2" >Lactate</text>
<text x="56.70" y="366.90" font-size="8.15" text-anchor="middle" fill="#222" stroke="#222" stroke-width="0.2" >Fructose</text>
<text x="174.90" y="350.60" font-size="8.15" text-anchor="end" fill="#222" stroke="#222" stroke-width="0.2" >2-Methylbutyroylcarnitine</text>
<text x="156.40" y="364.50" font-size="8.15" text-anchor="end" fill="#222" stroke="#222" stroke-width="0.2" >Malic acid</text>
<text x="165.80" y="360.90" font-size="8.15" fill="#222" stroke="#222" stroke-width="0.2" >Maleic acid</text>
<text x="130.10" y="373.00" font-size="8.15" text-anchor="end" fill="#222" stroke="#222" stroke-width="0.2" >Acetylcarnitine</text>
<text x="175.00" y="371.10" font-size="8.15" fill="#222" stroke="#222" stroke-width="0.2" >Butyric acid</text>
<text x="176.40" y="386.40" font-size="8.15" text-anchor="end" fill="#222" stroke="#222" stroke-width="0.2" >4-Hydroxybenzoic acid</text>
<text x="200.80" y="345.50" font-size="8.15" text-anchor="middle" fill="#222" stroke="#222" stroke-width="0.2" >AMP</text>
<text x="219.10" y="377.60" font-size="8.15" fill="#222" stroke="#222" stroke-width="0.2" >Oxoglutaric acid</text>
<text x="218.00" y="392.60" font-size="8.15" text-anchor="middle" fill="#222" stroke="#222" stroke-width="0.2" >SAH</text>
<text x="149.60" y="397.00" font-size="8.15" text-anchor="end" fill="#222" stroke="#222" stroke-width="0.2" >N-Acetylneuraminic acid</text>
<text x="191.30" y="398.70" font-size="8.15" text-anchor="middle" fill="#222" stroke="#222" stroke-width="0.2" >DPA</text>
<text x="161.30" y="406.80" font-size="8.15" text-anchor="end" fill="#222" stroke="#222" stroke-width="0.2" >Arginine</text>
<text x="225.10" y="408.70" font-size="8.15" fill="#222" stroke="#222" stroke-width="0.2" >Oleycarnitine</text>
<text x="192.60" y="414.80" font-size="8.15" fill="#222" stroke="#222" stroke-width="0.2" >Glycine</text>
<text x="167.90" y="416.30" font-size="8.15" text-anchor="end" fill="#222" stroke="#222" stroke-width="0.2" >Malonic acid</text>
<text x="110.00" y="420.90" font-size="8.15" text-anchor="end" fill="#222" stroke="#222" stroke-width="0.2" >Tartaric acid</text>
<text x="193.70" y="425.00" font-size="8.15" fill="#222" stroke="#222" stroke-width="0.2" >Pyruvate</text>
<text x="240.40" y="424.70" font-size="8.15" fill="#222" stroke="#222" stroke-width="0.2" >GMP</text>
<text x="162.50" y="429.40" font-size="8.15" text-anchor="end" fill="#222" stroke="#222" stroke-width="0.2" >Fumaric acid</text>
<text x="183.90" y="434.50" font-size="8.15" fill="#222" stroke="#222" stroke-width="0.2" >Glutamic acid</text>
<text x="163.30" y="438.80" font-size="8.15" text-anchor="middle" fill="#222" stroke="#222" stroke-width="0.2" >Glucose</text>
<text x="140.10" y="442.20" font-size="8.15" text-anchor="end" fill="#222" stroke="#222" stroke-width="0.2" >Indoleacetic acid</text>
<text x="188.60" y="445.70" font-size="8.15" fill="#222" stroke="#222" stroke-width="0.2" >DHA</text>
<text x="137.40" y="451.60" font-size="8.15" text-anchor="end" fill="#222" stroke="#222" stroke-width="0.2" >Pelargonic acid</text>
<text x="217.50" y="452.60" font-size="8.15" fill="#222" stroke="#222" stroke-width="0.2" >4-Aminohippuric acid</text>
<text x="151.30" y="464.80" font-size="8.15" text-anchor="end" fill="#222" stroke="#222" stroke-width="0.2" >Glyceraldehyde</text>
<text x="186.60" y="466.40" font-size="8.15" fill="#222" stroke="#222" stroke-width="0.2" >Dodecanoylcarnitine</text>
<text x="143.40" y="482.40" font-size="8.15" text-anchor="end" fill="#222" stroke="#222" stroke-width="0.2" >Benzoic acid</text>
<text x="36.80" y="328.40" font-size="9.4" fill="#111" stroke="#111" stroke-width="0.2" >A549</text>
<circle cx="272.80" cy="324.20" r="1.65" fill="#ff1a1a"/>
<text x="283.50" y="327.20" font-size="8.0" fill="#222" stroke="#222" stroke-width="0.2" >Up: 11</text>
<circle cx="272.80" cy="336.70" r="1.65" fill="#1a1aff"/>
<text x="283.50" y="339.60" font-size="8.0" fill="#222" stroke="#222" stroke-width="0.2" >Down: 19</text>
<circle cx="272.80" cy="349.10" r="1.65" fill="#c4c4c4"/>
<text x="283.50" y="352.00" font-size="8.0" fill="#222" stroke="#222" stroke-width="0.2" >NS: 277</text>
<line x1="387.60" y1="313.30" x2="387.60" y2="552.30" stroke="#333" stroke-width="0.9" />
<text x="384.90" y="339.90" font-size="7.7" text-anchor="end" fill="#4d4d4d" stroke="#4d4d4d" stroke-width="0.2" >2.5</text>
<text x="384.90" y="396.40" font-size="7.7" text-anchor="end" fill="#4d4d4d" stroke="#4d4d4d" stroke-width="0.2" >0.0</text>
<text x="384.90" y="452.90" font-size="7.7" text-anchor="end" fill="#4d4d4d" stroke="#4d4d4d" stroke-width="0.2" >−2.5</text>
<text x="384.90" y="509.40" font-size="7.7" text-anchor="end" fill="#4d4d4d" stroke="#4d4d4d" stroke-width="0.2" >−5.0</text>
<text x="0" y="0" font-size="9.4" text-anchor="middle" transform="translate(367.70,422.20) rotate(-90)" stroke="#000" stroke-width="0.2" >Log<tspan font-size="6.2" dy="2.4">2</tspan><tspan dy="-2.4"> FC (</tspan><tspan font-style="italic">AKR1B1</tspan>-KO / NC)</text>
<rect x="388.85" y="323.90" width="6.85" height="69.80" fill="#5dd6c9" />
<text x="0" y="0" font-size="8.0" text-anchor="end" transform="translate(394.77,395.00) rotate(-90)" stroke="#000" stroke-width="0.2" >GMP</text>
<rect x="396.94" y="349.90" width="6.85" height="43.80" fill="#ef6f6f" />
<text x="0" y="0" font-size="8.0" text-anchor="end" transform="translate(402.86,395.00) rotate(-90)" stroke="#000" stroke-width="0.2" >Oxoglutaric acid</text>
<rect x="405.03" y="355.40" width="6.85" height="38.30" fill="#ef6f6f" />
<text x="0" y="0" font-size="8.0" text-anchor="end" transform="translate(410.95,395.00) rotate(-90)" stroke="#000" stroke-width="0.2" >SAH</text>
<rect x="413.12" y="363.30" width="6.85" height="30.40" fill="#ff2314" />
<text x="0" y="0" font-size="8.0" text-anchor="end" transform="translate(419.04,395.00) rotate(-90)" stroke="#000" stroke-width="0.2" >AMP</text>
<rect x="421.21" y="377.50" width="6.85" height="16.20" fill="#5dd6c9" />
<text x="0" y="0" font-size="8.0" text-anchor="end" transform="translate(427.13,395.00) rotate(-90)" stroke="#000" stroke-width="0.2" >Pyruvate</text>
<rect x="429.30" y="378.30" width="6.85" height="15.40" fill="#ef6f6f" />
<text x="0" y="0" font-size="8.0" text-anchor="end" transform="translate(435.22,395.00) rotate(-90)" stroke="#000" stroke-width="0.2" >DPA</text>
<rect x="437.39" y="380.40" width="6.85" height="13.30" fill="#ef6f6f" />
<text x="0" y="0" font-size="8.0" text-anchor="end" transform="translate(443.31,395.00) rotate(-90)" stroke="#000" stroke-width="0.2" >Glycine</text>
<rect x="445.48" y="381.20" width="6.85" height="12.50" fill="#ef6f6f" />
<text x="0" y="0" font-size="8.0" text-anchor="end" transform="translate(451.40,395.00) rotate(-90)" stroke="#000" stroke-width="0.2" >Oleycarnitine</text>
<rect x="453.57" y="383.80" width="6.85" height="9.90" fill="#5dd6c9" />
<text x="0" y="0" font-size="8.0" text-anchor="end" transform="translate(459.50,395.00) rotate(-90)" stroke="#000" stroke-width="0.2" >DHA</text>
<rect x="461.66" y="385.60" width="6.85" height="8.10" fill="#5dd6c9" />
<text x="0" y="0" font-size="8.0" text-anchor="end" transform="translate(467.58,395.00) rotate(-90)" stroke="#000" stroke-width="0.2" >Dodecanoylcarnitine</text>
<rect x="469.75" y="387.70" width="6.85" height="6.00" fill="#5dd6c9" />
<text x="0" y="0" font-size="8.0" text-anchor="end" transform="translate(475.67,395.00) rotate(-90)" stroke="#000" stroke-width="0.2" >Glutamic acid</text>
<rect x="477.84" y="393.70" width="6.85" height="4.30" fill="#5dd6c9" />
<text x="0" y="0" font-size="8.0" transform="translate(484.16,392.50) rotate(-90)" stroke="#000" stroke-width="0.2" >Benzoic acid</text>
<rect x="485.93" y="393.70" width="6.85" height="5.90" fill="#ef6f6f" />
<text x="0" y="0" font-size="8.0" transform="translate(492.25,392.50) rotate(-90)" stroke="#000" stroke-width="0.2" >Butyric acid</text>
<rect x="494.02" y="393.70" width="6.85" height="6.40" fill="#5dd6c9" />
<text x="0" y="0" font-size="8.0" transform="translate(500.34,392.50) rotate(-90)" stroke="#000" stroke-width="0.2" >4−Aminohippuric acid</text>
<rect x="502.11" y="393.70" width="6.85" height="6.60" fill="#5dd6c9" />
<text x="0" y="0" font-size="8.0" transform="translate(508.43,392.50) rotate(-90)" stroke="#000" stroke-width="0.2" >Tartaric acid</text>
<rect x="510.20" y="393.70" width="6.85" height="6.90" fill="#5dd6c9" />
<text x="0" y="0" font-size="8.0" transform="translate(516.52,392.50) rotate(-90)" stroke="#000" stroke-width="0.2" >Pelargonic acid</text>
<rect x="518.29" y="393.70" width="6.85" height="10.30" fill="#5dd6c9" />
<text x="0" y="0" font-size="8.0" transform="translate(524.61,392.50) rotate(-90)" stroke="#000" stroke-width="0.2" >Glucose</text>
<rect x="526.38" y="393.70" width="6.85" height="10.80" fill="#5dd6c9" />
<text x="0" y="0" font-size="8.0" transform="translate(532.70,392.50) rotate(-90)" stroke="#000" stroke-width="0.2" >Malonic acid</text>
<rect x="534.47" y="393.70" width="6.85" height="14.80" fill="#5dd6c9" />
<text x="0" y="0" font-size="8.0" transform="translate(540.79,392.50) rotate(-90)" stroke="#000" stroke-width="0.2" >Fumaric acid</text>
<rect x="542.56" y="393.70" width="6.85" height="16.90" fill="#ef6f6f" />
<text x="0" y="0" font-size="8.0" transform="translate(548.88,392.50) rotate(-90)" stroke="#000" stroke-width="0.2" >Maleic acid</text>
<rect x="550.65" y="393.70" width="6.85" height="17.90" fill="#ef6f6f" />
<text x="0" y="0" font-size="8.0" transform="translate(556.98,392.50) rotate(-90)" stroke="#000" stroke-width="0.2" >Arginine</text>
<rect x="558.74" y="393.70" width="6.85" height="22.70" fill="#ef6f6f" />
<text x="0" y="0" font-size="8.0" transform="translate(565.06,392.50) rotate(-90)" stroke="#000" stroke-width="0.2" >Malic acid</text>
<rect x="566.83" y="393.70" width="6.85" height="27.90" fill="#ff2314" />
<text x="0" y="0" font-size="8.0" transform="translate(573.15,392.50) rotate(-90)" stroke="#000" stroke-width="0.2" >2−Methylbutyroylcarnitine</text>
<rect x="574.92" y="393.70" width="6.85" height="29.20" fill="#5dd6c9" />
<text x="0" y="0" font-size="8.0" transform="translate(581.25,392.50) rotate(-90)" stroke="#000" stroke-width="0.2" >Glyceraldehyde</text>
<rect x="583.01" y="393.70" width="6.85" height="31.30" fill="#ef6f6f" />
<text x="0" y="0" font-size="8.0" transform="translate(589.33,392.50) rotate(-90)" stroke="#000" stroke-width="0.2" >N−Acetylneuraminic acid</text>
<rect x="591.10" y="393.70" width="6.85" height="40.80" fill="#ff2314" />
<text x="0" y="0" font-size="8.0" transform="translate(597.42,392.50) rotate(-90)" stroke="#000" stroke-width="0.2" >Lactate</text>
<rect x="599.19" y="393.70" width="6.85" height="42.10" fill="#5dd6c9" />
<text x="0" y="0" font-size="8.0" transform="translate(605.51,392.50) rotate(-90)" stroke="#000" stroke-width="0.2" >Indoleacetic acid</text>
<rect x="607.28" y="393.70" width="6.85" height="43.90" fill="#ef6f6f" />
<text x="0" y="0" font-size="8.0" transform="translate(613.60,392.50) rotate(-90)" stroke="#000" stroke-width="0.2" >4−Hydroxybenzoic acid</text>
<rect x="615.37" y="393.70" width="6.85" height="53.90" fill="#ef6f6f" />
<text x="0" y="0" font-size="8.0" transform="translate(621.69,392.50) rotate(-90)" stroke="#000" stroke-width="0.2" >Acetylcarnitine</text>
<rect x="623.46" y="393.70" width="6.85" height="147.70" fill="#ff2314" />
<text x="0" y="0" font-size="8.0" transform="translate(629.78,392.50) rotate(-90)" stroke="#000" stroke-width="0.2" >Fructose</text>
<line x1="387.60" y1="393.60" x2="631.50" y2="393.60" stroke="#555" stroke-width="0.7" />
<text x="639.40" y="423.50" font-size="8.0" stroke="#000" stroke-width="0.2" >P value</text>
<rect x="638.50" y="429.20" width="7.20" height="7.20" fill="#ff2314" />
<text x="648.20" y="435.00" font-size="6.6" stroke="#000" stroke-width="0.2" >P &lt; 0.0001</text>
<rect x="638.50" y="437.15" width="7.20" height="7.20" fill="#ef6f6f" />
<text x="648.20" y="442.95" font-size="6.6" stroke="#000" stroke-width="0.2" >P &lt; 0.01</text>
<rect x="638.50" y="445.10" width="7.20" height="7.20" fill="#5dd6c9" />
<text x="648.20" y="450.90" font-size="6.6" stroke="#000" stroke-width="0.2" >P &lt; 0.05</text>
</svg>
</body></html>
